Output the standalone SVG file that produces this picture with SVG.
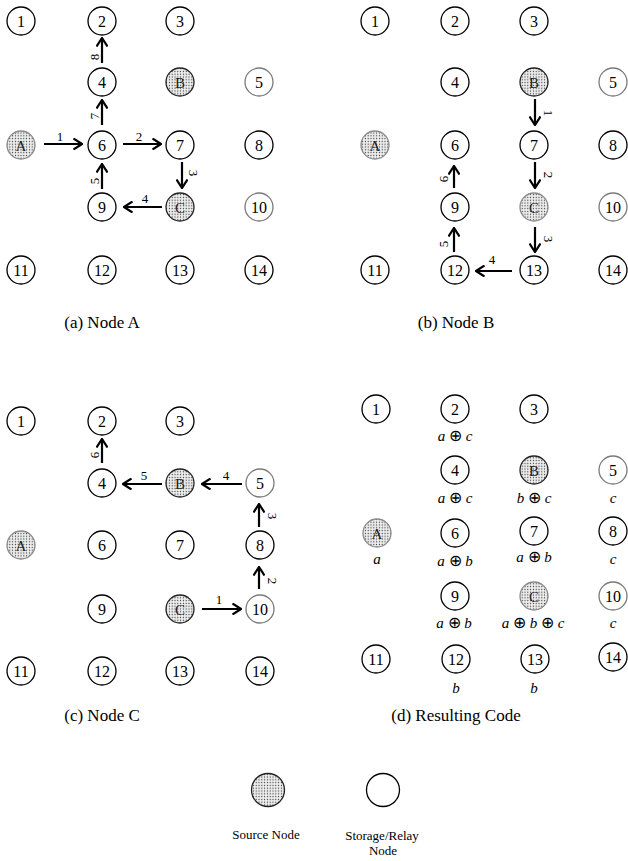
<svg xmlns="http://www.w3.org/2000/svg" width="628" height="861" viewBox="0 0 628 861">
<style>
.n{fill:#fff;stroke:#000;stroke-width:1.3}
.g{fill:#fff;stroke:#7a7a7a;stroke-width:1.3}
.s{fill:url(#dots);stroke:#222;stroke-width:1.3}
.sg{fill:url(#dots);stroke:#8a8a8a;stroke-width:1.3}
text{font-family:"Liberation Serif","DejaVu Serif",serif;fill:#000}
.t{font-size:16px;text-anchor:middle}
.st{font-size:15px;text-anchor:middle;fill:#222}
.l{font-size:13px;text-anchor:middle;dominant-baseline:central}
.c{font-size:15px;font-style:italic;text-anchor:middle}
.o{font-family:"DejaVu Sans",sans-serif;font-style:normal;font-size:16px;font-weight:300}
.cap{font-size:17px;text-anchor:middle}
.lg{font-size:13px;text-anchor:middle}
.e{fill:none;stroke:#000;stroke-width:2.2;marker-end:url(#arr)}
</style>
<defs>
<pattern id="dots" width="2.8" height="2.8" patternUnits="userSpaceOnUse">
<rect width="2.8" height="2.8" fill="#ececec"/>
<circle cx="1.4" cy="1.4" r="0.6" fill="#333"/>
</pattern>
<marker id="arr" viewBox="0 -6 10 12" refX="9" refY="0" markerWidth="10" markerHeight="12" markerUnits="userSpaceOnUse" orient="auto">
<path d="M0.5,-5.5 L9,0 L0.5,5.5" fill="none" stroke="#000" stroke-width="2.2"/>
</marker>
</defs>

<!-- Panel (a) -->
<g id="panel-a">
<g id="a-n1"><circle class="n" cx="21" cy="21" r="14"/><text class="t" x="21" y="26.5">1</text></g>
<g id="a-n2"><circle class="n" cx="102" cy="21" r="14"/><text class="t" x="102" y="26.5">2</text></g>
<g id="a-n3"><circle class="n" cx="180" cy="21" r="14"/><text class="t" x="180" y="26.5">3</text></g>
<g id="a-n4"><circle class="n" cx="102" cy="82" r="14"/><text class="t" x="102" y="87.5">4</text></g>
<g id="a-nB"><circle class="s" cx="180" cy="82" r="14"/><text class="st" x="180" y="87.5">B</text></g>
<g id="a-n5"><circle class="g" cx="259" cy="82" r="14"/><text class="t" x="259" y="87.5">5</text></g>
<g id="a-nA"><circle class="sg" cx="21" cy="145" r="14"/><text class="st" x="21" y="150.5">A</text></g>
<g id="a-n6"><circle class="n" cx="102" cy="145" r="14"/><text class="t" x="102" y="150.5">6</text></g>
<g id="a-n7"><circle class="n" cx="180" cy="145" r="14"/><text class="t" x="180" y="150.5">7</text></g>
<g id="a-n8"><circle class="n" cx="259" cy="145" r="14"/><text class="t" x="259" y="150.5">8</text></g>
<g id="a-n9"><circle class="n" cx="102" cy="207" r="14"/><text class="t" x="102" y="212.5">9</text></g>
<g id="a-nC"><circle class="s" cx="180" cy="207" r="14"/><text class="st" x="180" y="212.5">C</text></g>
<g id="a-n10"><circle class="g" cx="259" cy="207" r="14"/><text class="t" x="259" y="212.5">10</text></g>
<g id="a-n11"><circle class="n" cx="21" cy="270" r="14"/><text class="t" x="21" y="275.5">11</text></g>
<g id="a-n12"><circle class="n" cx="102" cy="270" r="14"/><text class="t" x="102" y="275.5">12</text></g>
<g id="a-n13"><circle class="n" cx="180" cy="270" r="14"/><text class="t" x="180" y="275.5">13</text></g>
<g id="a-n14"><circle class="n" cx="259" cy="270" r="14"/><text class="t" x="259" y="275.5">14</text></g>
</g>
<g id="edges-a">
<path class="e" d="M44,144 H82"/><text class="l" x="60" y="136">1</text>
<path class="e" d="M123,144 H161"/><text class="l" x="139" y="136">2</text>
<path class="e" d="M182,162 V188"/><text class="l" transform="translate(193,173) rotate(90)">3</text>
<path class="e" d="M162,207 H124"/><text class="l" x="145" y="198">4</text>
<path class="e" d="M102,189 V164"/><text class="l" transform="translate(94,181) rotate(-90)">5</text>
<path class="e" d="M102,125 V100"/><text class="l" transform="translate(94,116) rotate(-90)">7</text>
<path class="e" d="M102,63 V38"/><text class="l" transform="translate(94,57) rotate(-90)">8</text>
</g>
<text class="cap" x="102" y="328">(a)  Node A</text>

<!-- Panel (b) -->
<g id="panel-b">
<g id="b-n1"><circle class="n" cx="375" cy="21" r="14"/><text class="t" x="375" y="26.5">1</text></g>
<g id="b-n2"><circle class="n" cx="455" cy="21" r="14"/><text class="t" x="455" y="26.5">2</text></g>
<g id="b-n3"><circle class="n" cx="534" cy="21" r="14"/><text class="t" x="534" y="26.5">3</text></g>
<g id="b-n4"><circle class="n" cx="455" cy="82" r="14"/><text class="t" x="455" y="87.5">4</text></g>
<g id="b-nB"><circle class="s" cx="534" cy="82" r="14"/><text class="st" x="534" y="87.5">B</text></g>
<g id="b-n5"><circle class="g" cx="613" cy="82" r="14"/><text class="t" x="613" y="87.5">5</text></g>
<g id="b-nA"><circle class="sg" cx="375" cy="145" r="14"/><text class="st" x="375" y="150.5">A</text></g>
<g id="b-n6"><circle class="n" cx="455" cy="145" r="14"/><text class="t" x="455" y="150.5">6</text></g>
<g id="b-n7"><circle class="n" cx="534" cy="145" r="14"/><text class="t" x="534" y="150.5">7</text></g>
<g id="b-n8"><circle class="n" cx="613" cy="145" r="14"/><text class="t" x="613" y="150.5">8</text></g>
<g id="b-n9"><circle class="n" cx="455" cy="207" r="14"/><text class="t" x="455" y="212.5">9</text></g>
<g id="b-nC"><circle class="sg" cx="534" cy="207" r="14"/><text class="st" x="534" y="212.5">C</text></g>
<g id="b-n10"><circle class="g" cx="613" cy="207" r="14"/><text class="t" x="613" y="212.5">10</text></g>
<g id="b-n11"><circle class="n" cx="375" cy="270" r="14"/><text class="t" x="375" y="275.5">11</text></g>
<g id="b-n12"><circle class="n" cx="455" cy="270" r="14"/><text class="t" x="455" y="275.5">12</text></g>
<g id="b-n13"><circle class="n" cx="534" cy="270" r="14"/><text class="t" x="534" y="275.5">13</text></g>
<g id="b-n14"><circle class="n" cx="613" cy="270" r="14"/><text class="t" x="613" y="275.5">14</text></g>
</g>
<g id="edges-b">
<path class="e" d="M535,99 V125"/><text class="l" transform="translate(548,113) rotate(90)">1</text>
<path class="e" d="M535,162 V188"/><text class="l" transform="translate(548,175) rotate(90)">2</text>
<path class="e" d="M535,227 V252"/><text class="l" transform="translate(548,239) rotate(90)">3</text>
<path class="e" d="M512,271 H476"/><text class="l" x="492" y="259">4</text>
<path class="e" d="M454,252 V228"/><text class="l" transform="translate(443,244) rotate(-90)">5</text>
<path class="e" d="M454,188 V166"/><text class="l" transform="translate(443,179) rotate(-90)">6</text>
</g>
<text class="cap" x="456" y="328">(b)  Node B</text>

<!-- Panel (c) -->
<g id="panel-c">
<g id="c-n1"><circle class="n" cx="21" cy="421" r="14"/><text class="t" x="21" y="426.5">1</text></g>
<g id="c-n2"><circle class="n" cx="102" cy="421" r="14"/><text class="t" x="102" y="426.5">2</text></g>
<g id="c-n3"><circle class="n" cx="180" cy="421" r="14"/><text class="t" x="180" y="426.5">3</text></g>
<g id="c-n4"><circle class="n" cx="102" cy="483" r="14"/><text class="t" x="102" y="488.5">4</text></g>
<g id="c-nB"><circle class="s" cx="180" cy="483" r="14"/><text class="st" x="180" y="488.5">B</text></g>
<g id="c-n5"><circle class="g" cx="260" cy="483" r="14"/><text class="t" x="260" y="488.5">5</text></g>
<g id="c-nA"><circle class="sg" cx="21" cy="545" r="14"/><text class="st" x="21" y="550.5">A</text></g>
<g id="c-n6"><circle class="n" cx="102" cy="545" r="14"/><text class="t" x="102" y="550.5">6</text></g>
<g id="c-n7"><circle class="n" cx="180" cy="545" r="14"/><text class="t" x="180" y="550.5">7</text></g>
<g id="c-n8"><circle class="n" cx="260" cy="545" r="14"/><text class="t" x="260" y="550.5">8</text></g>
<g id="c-n9"><circle class="n" cx="102" cy="609" r="14"/><text class="t" x="102" y="614.5">9</text></g>
<g id="c-nC"><circle class="s" cx="180" cy="609" r="14"/><text class="st" x="180" y="614.5">C</text></g>
<g id="c-n10"><circle class="g" cx="260" cy="609" r="14"/><text class="t" x="260" y="614.5">10</text></g>
<g id="c-n11"><circle class="n" cx="21" cy="671" r="14"/><text class="t" x="21" y="676.5">11</text></g>
<g id="c-n12"><circle class="n" cx="102" cy="671" r="14"/><text class="t" x="102" y="676.5">12</text></g>
<g id="c-n13"><circle class="n" cx="180" cy="671" r="14"/><text class="t" x="180" y="676.5">13</text></g>
<g id="c-n14"><circle class="n" cx="260" cy="671" r="14"/><text class="t" x="260" y="676.5">14</text></g>
</g>
<g id="edges-c">
<path class="e" d="M202,609 H241"/><text class="l" x="219" y="599">1</text>
<path class="e" d="M259,589 V567"/><text class="l" transform="translate(272,581) rotate(90)">2</text>
<path class="e" d="M259,527 V504"/><text class="l" transform="translate(272,516) rotate(90)">3</text>
<path class="e" d="M242,484 H202"/><text class="l" x="226" y="475">4</text>
<path class="e" d="M162,484 H123"/><text class="l" x="144" y="475">5</text>
<path class="e" d="M102,463 V439"/><text class="l" transform="translate(94,455) rotate(-90)">6</text>
</g>
<text class="cap" x="102" y="721">(c)  Node C</text>

<!-- Panel (d) -->
<g id="panel-d">
<g id="d-n1"><circle class="n" cx="376" cy="409" r="14"/><text class="t" x="376" y="414.5">1</text></g>
<g id="d-n2"><circle class="n" cx="455" cy="409" r="14"/><text class="t" x="455" y="414.5">2</text><text class="c" x="455" y="441">a <tspan class="o">⊕</tspan> c</text></g>
<g id="d-n3"><circle class="n" cx="534" cy="409" r="14"/><text class="t" x="534" y="414.5">3</text></g>
<g id="d-n4"><circle class="n" cx="455" cy="470" r="14"/><text class="t" x="455" y="475.5">4</text><text class="c" x="455" y="503">a <tspan class="o">⊕</tspan> c</text></g>
<g id="d-nB"><circle class="s" cx="534" cy="470" r="14"/><text class="st" x="534" y="475.5">B</text><text class="c" x="534" y="503">b <tspan class="o">⊕</tspan> c</text></g>
<g id="d-n5"><circle class="g" cx="613" cy="470" r="14"/><text class="t" x="613" y="475.5">5</text><text class="c" x="613" y="503">c</text></g>
<g id="d-nA"><circle class="sg" cx="377" cy="533" r="14"/><text class="st" x="377" y="538.5">A</text><text class="c" x="377" y="564">a</text></g>
<g id="d-n6"><circle class="n" cx="455" cy="533" r="14"/><text class="t" x="455" y="538.5">6</text><text class="c" x="455" y="566">a <tspan class="o">⊕</tspan> b</text></g>
<g id="d-n7"><circle class="n" cx="534" cy="531" r="14"/><text class="t" x="534" y="536.5">7</text><text class="c" x="534" y="562">a <tspan class="o">⊕</tspan> b</text></g>
<g id="d-n8"><circle class="n" cx="613" cy="531" r="14"/><text class="t" x="613" y="536.5">8</text><text class="c" x="613" y="564">c</text></g>
<g id="d-n9"><circle class="n" cx="455" cy="596" r="14"/><text class="t" x="455" y="601.5">9</text><text class="c" x="454" y="628">a <tspan class="o">⊕</tspan> b</text></g>
<g id="d-nC"><circle class="sg" cx="534" cy="596" r="14"/><text class="st" x="534" y="601.5">C</text><text class="c" x="533" y="628">a <tspan class="o">⊕</tspan> b <tspan class="o">⊕</tspan> c</text></g>
<g id="d-n10"><circle class="g" cx="613" cy="596" r="14"/><text class="t" x="613" y="601.5">10</text><text class="c" x="613" y="628">c</text></g>
<g id="d-n11"><circle class="n" cx="376" cy="659" r="14"/><text class="t" x="376" y="664.5">11</text></g>
<g id="d-n12"><circle class="n" cx="456" cy="659" r="14"/><text class="t" x="456" y="664.5">12</text><text class="c" x="456" y="693">b</text></g>
<g id="d-n13"><circle class="n" cx="535" cy="659" r="14"/><text class="t" x="535" y="664.5">13</text><text class="c" x="534" y="693">b</text></g>
<g id="d-n14"><circle class="n" cx="613" cy="657" r="14"/><text class="t" x="613" y="662.5">14</text></g>
</g>
<text class="cap" x="456" y="721">(d)  Resulting Code</text>

<!-- Legend -->
<g id="legend-source"><circle class="s" cx="268" cy="790" r="16.5"/><text class="lg" x="266" y="839">Source Node</text></g>
<g id="legend-storage"><circle class="n" cx="383" cy="790" r="16.5"/><text class="lg" x="382" y="840">Storage/Relay</text><text class="lg" x="383" y="855">Node</text></g>
</svg>
